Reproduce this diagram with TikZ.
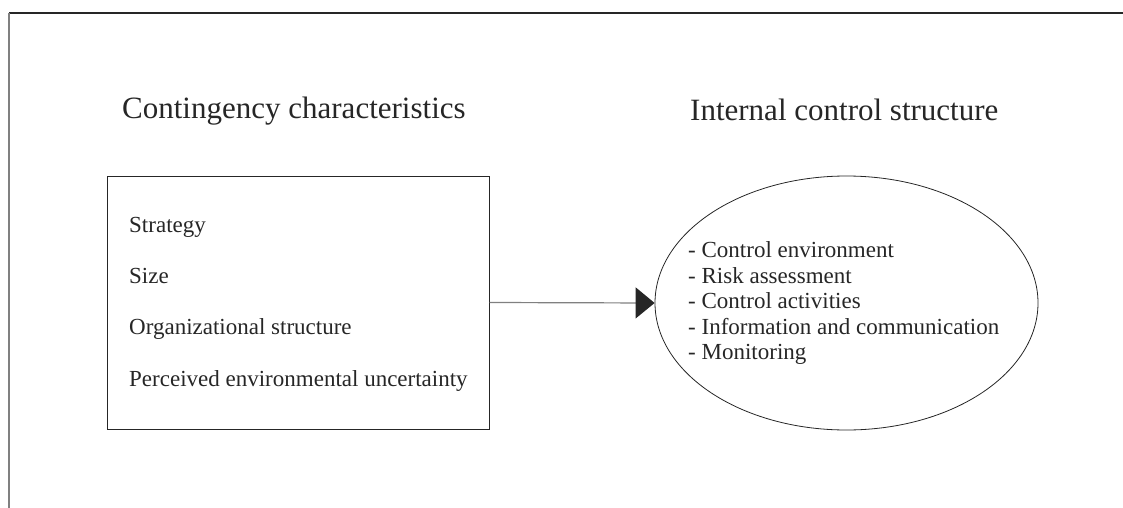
\documentclass[tikz,border=0pt]{standalone}
\usepackage{fontspec}
\setmainfont{Liberation Serif}
\usetikzlibrary{arrows.meta,shapes.geometric}
\definecolor{inkgray}{HTML}{262626}
\definecolor{linegray}{HTML}{808080}
\begin{document}
\begin{tikzpicture}[x=1pt,y=-1pt,
    every node/.style={inner sep=0pt,text=inkgray},
    heading/.style={font=\fontsize{31}{37}\selectfont,anchor=base west},
    item/.style={font=\fontsize{23}{27}\selectfont,anchor=base west}]
                % 0) page frame: top and left rules
                \useasboundingbox (0,0) rectangle (1123,508);
                \draw[line width=1.5pt,inkgray] (9,13) -- (1123,13);
                \draw[line width=2pt,linegray] (9,13) -- (9,508);
                % 1) headings over both halves
                \node[heading] (leftTitle) at (122,118) {Contingency characteristics};
                \node[heading] (rightTitle) at (690,121) {Internal control structure};
                % 2) box with the contingency factors
                \node[draw=inkgray,line width=1pt,minimum width=382pt,minimum height=253pt]
                     (factors) at (298,302.5) {};
                \node[item] (strategy) at (129,232) {Strategy};
                \node[item] (size) at (129,283) {Size};
                \node[item] (orgStructure) at (129,334.5) {Organizational structure};
                \node[item] (uncertainty) at (129,386) {Perceived environmental uncertainty};
                % 3) ellipse with the control components
                \node[ellipse,draw=inkgray,line width=0.8pt,minimum width=383pt,minimum height=254pt]
                     (components) at (846.5,303) {};
                \node[item] (environment) at (688,257.5) {- Control environment};
                \node[item] (risk) at (688,283) {- Risk assessment};
                \node[item] (activities) at (688,308.5) {- Control activities};
                \node[item] (information) at (688,334) {- Information and communication};
                \node[item] (monitoring) at (688,359.5) {- Monitoring};
                % 4) arrow from the box into the ellipse
                \draw[-{Triangle[length=19pt,width=31pt,color=inkgray]},line width=1.2pt,linegray]
                     (factors.east) -- (components.west);
\end{tikzpicture}
\end{document}
